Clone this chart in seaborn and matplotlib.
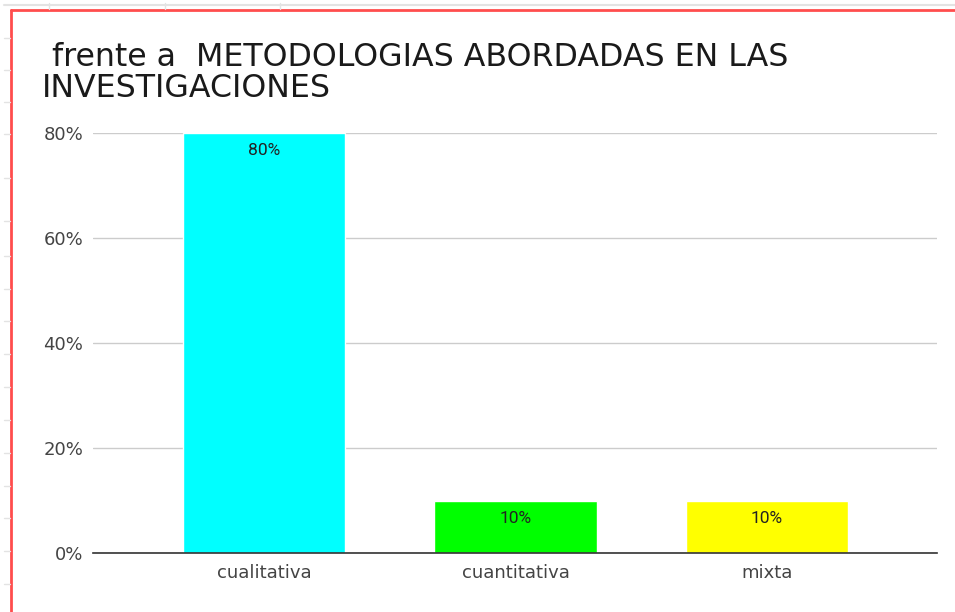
import numpy as np
import pandas as pd
import matplotlib.pyplot as plt
import seaborn as sns
from matplotlib.ticker import PercentFormatter
from matplotlib.lines import Line2D

# data
categorias = ["cualitativa", "cuantitativa", "mixta"]
porcentajes = [0.80, 0.10, 0.10]
colores = ["#00FFFF", "#00FF00", "#FFFF00"]
titulo = " frente a  METODOLOGIAS ABORDADAS EN LAS\nINVESTIGACIONES"

df = pd.DataFrame({"metodologia": categorias, "pct": porcentajes})

sns.set_style("white")
plt.rcParams["font.family"] = ["DejaVu Sans"]

fig = plt.figure(figsize=(9.55, 6.12), dpi=100)
ax = fig.add_axes([0.0974, 0.0964, 0.8836, 0.6863])

sns.barplot(data=df, x="metodologia", y="pct", hue="metodologia",
            palette=colores, legend=False, width=0.645, saturation=1, ax=ax)

ax.set_ylim(0, 0.8)
ax.set_xlim(-0.68, 2.676)
ax.set_yticks([0, 0.2, 0.4, 0.6, 0.8])
ax.yaxis.set_major_formatter(PercentFormatter(1, decimals=0))
ax.set_xlabel("")
ax.set_ylabel("")
ax.grid(axis="y", color="#cccccc", linewidth=1)
ax.set_axisbelow(True)
for s in ["top", "right", "left"]:
    ax.spines[s].set_visible(False)
ax.spines["bottom"].set_color("#333333")
ax.spines["bottom"].set_linewidth(1.2)
ax.spines["bottom"].set_zorder(5)
ax.tick_params(axis="both", length=0, labelsize=13, labelcolor="#444444")
ax.tick_params(axis="y", pad=7)
ax.tick_params(axis="x", pad=8)

# value labels inside the top of each bar
for cont in ax.containers:
    ax.bar_label(cont, fmt=lambda v: f"{v:.0%}", padding=-18, fontsize=12.5,
                 color="#222222", family=["Roboto", "DejaVu Sans"])

fig.text(0.044, 0.932, titulo, fontsize=22.8, color="#1a1a1a",
         ha="left", va="top", linespacing=1.02)

# spreadsheet frame around the chart
H, W = 612, 955
def fy(p):
    return 1 - p / H
def fx(p):
    return p / W
fig.add_artist(Line2D([fx(11), 1], [fy(10), fy(10)], color="#ff4d4d", lw=2))
fig.add_artist(Line2D([fx(11), fx(11)], [fy(10), 0], color="#ff4d4d", lw=2))
fig.add_artist(Line2D([fx(4), 1], [fy(5), fy(5)], color="#e3e3e3", lw=1.5))
for xv in [49, 165, 280]:
    fig.add_artist(Line2D([fx(xv), fx(xv)], [fy(3), fy(9)], color="#e3e3e3", lw=1))
for yv in [38, 70, 102, 134, 178, 221, 256, 289, 321, 354, 387, 420, 453, 486, 518, 551, 584]:
    fig.add_artist(Line2D([fx(4), fx(10)], [fy(yv), fy(yv)], color="#e3e3e3", lw=1))

fig.savefig("out.png", dpi=100)
